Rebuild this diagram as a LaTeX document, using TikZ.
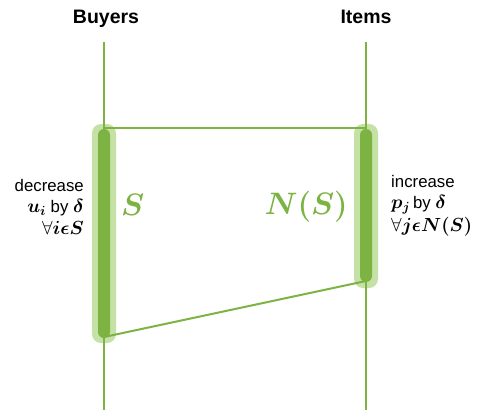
\RequirePackage{fix-cm}
\documentclass[tikz,border=0pt]{standalone}
\usepackage{amsmath,bm}
\usepackage{fontspec}
\setmainfont{Liberation Sans}
\definecolor{gdark}{HTML}{7CB342}
\definecolor{glight}{HTML}{C5E1A5}
\newcommand{\mymath}[1]{{\fontsize{19}{21}\selectfont$#1$}}
\begin{document}
\begin{tikzpicture}[x=1pt,y=-1pt,
  halo/.style={fill=glight,draw=none,rounded corners=9pt,minimum width=24pt,inner sep=0pt},
  core/.style={fill=gdark,draw=none,rounded corners=6pt,minimum width=12pt,inner sep=0pt},
  conn/.style={draw=gdark,line width=2pt},
  title/.style={font=\bfseries\fontsize{19.5}{22}\selectfont,anchor=base},
  side/.style={font=\fontsize{16.8}{21}\selectfont,inner sep=0pt},
  setlbl/.style={text=gdark,inner sep=0pt}]
\useasboundingbox (0,0) rectangle (478,412);
% halos
\node[halo,minimum height=219pt] (hl) at (104,233.5) {};
\node[halo,minimum height=164pt] (hr) at (366,206) {};
% coordinates
\coordinate (lt) at (104,42);
\coordinate (lb) at (104,410);
\coordinate (rt) at (366,42);
\coordinate (rb) at (366,410);
\coordinate (l1) at (104,128);
\coordinate (r1) at (366,128);
\coordinate (l2) at (104,337);
\coordinate (r2) at (366,281);
% lines
\draw[conn] (lt) -- (lb);
\draw[conn] (rt) -- (rb);
\draw[conn] (l1) -- (r1);
\draw[conn] (l2) -- (r2);
% core bars
\node[core,minimum height=209pt] (cl) at (104,233.5) {};
\node[core,minimum height=153pt] (cr) at (366,205.5) {};
% titles
\node[title] (buyers) at (106,24) {Buyers};
\node[title] (items) at (366,24) {Items};
% set labels
\node[setlbl,font=\fontsize{31}{34}\selectfont,anchor=base west] (S) at (121,215) {$\bm{S}$};
\node[setlbl,font=\fontsize{31}{34}\selectfont,anchor=base east] (NS) at (348,214) {$\bm{N(S)}$};
% side texts
\node[side,align=right,anchor=east] (dec) at (84,207) {decrease\\\mymath{\bm{u_i}} by \mymath{\bm{\delta}}\\[1.5pt]\mymath{\forall\bm{i\epsilon S}}};
\node[side,align=left,anchor=west] (inc) at (391,206) {increase\\\mymath{\bm{p_j}}\,by \mymath{\bm{\delta}}\\[1.5pt]\mymath{\forall\bm{j\epsilon N(S)}}};
\end{tikzpicture}
\end{document}
